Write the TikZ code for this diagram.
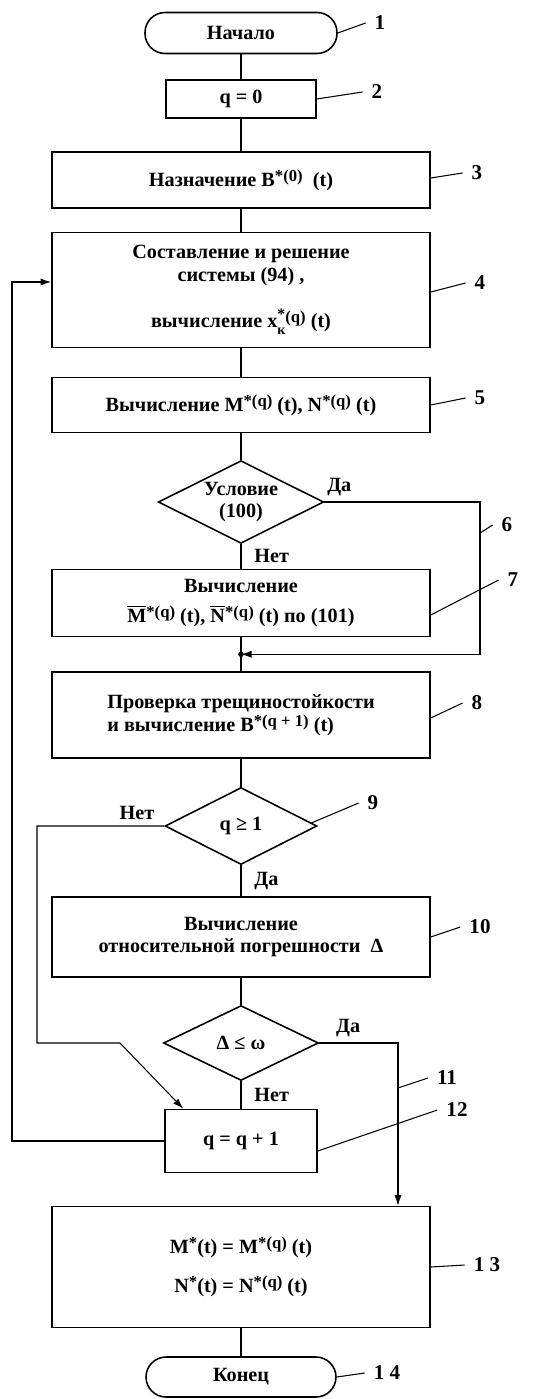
\documentclass[tikz,border=0pt]{standalone}
\usepackage{fontspec}
\setmainfont{Liberation Serif}
\usetikzlibrary{shapes.geometric,calc,arrows.meta}

% indice superior un poco mayor que el estandar
\newcommand{\up}[1]{\raisebox{0.55ex}{\fontsize{9.5}{9.5}\selectfont #1}}
\newcommand{\dn}[1]{\raisebox{-0.75ex}{\fontsize{8}{8}\selectfont #1}}

\begin{document}
\begin{tikzpicture}[x=0.02cm, y=-0.02cm,
    font=\fontsize{11.5}{13}\selectfont\bfseries,
    terminal/.style={draw, line width=0.9pt, rounded corners=0.4cm,
        minimum width=3.84cm, minimum height=0.82cm},
    proc/.style={draw, line width=0.9pt, minimum width=7.56cm,
        align=center, inner sep=2pt},
    cond/.style={draw, diamond, aspect=2, line width=0.9pt, inner sep=1pt,
        align=center, minimum width=3.1cm, minimum height=1.5cm},
    num/.style={font=\fontsize{12}{13}\selectfont\bfseries, inner sep=5pt},
    link/.style={line width=0.6pt},
    flow/.style={line width=0.6pt, -{Latex[length=6pt,width=4pt]}},
    lead/.style={line width=0.6pt}]

\useasboundingbox (0,0) rectangle (546,1399);

% ================================================================
%  Bloques del algoritmo (eje vertical en x = 241 px)
% ================================================================
\node[terminal] (start) at (241,33) {Начало};
\node[proc, minimum width=3cm, minimum height=0.76cm] (b2) at (241,99) {q = 0};
\node[proc, minimum height=1.12cm] (b3) at (241,180)
    {Назначение B\up{*(0)}\ \ (t)};
\node[proc, minimum height=2.3cm] (b4) at (241,290)
    {Составление и решение\\ системы (94) ,\\[12pt]
     вычисление x\rlap{\dn{к}}\raisebox{0.9ex}{\fontsize{9}{9}\selectfont *}\up{(q)} (t)};
\node[proc, minimum height=1.1cm] (b5) at (241,405)
    {Вычисление M\up{*(q)} (t), N\up{*(q)} (t)};
\node[cond] (d6) at (241,502) {Условие\\(100)};
\node[proc, minimum height=1.34cm] (b7) at (241,603)
    {Вычисление\\[4pt]
     $\overline{\mbox{M}}$\up{*(q)} (t), $\overline{\mbox{N}}$\up{*(q)} (t) по (101)};
\node[proc, minimum height=1.72cm, align=left] (b8) at (241,715)
    {Проверка трещиностойкости\\ и вычисление B\up{*(q + 1)} (t)};
\node[cond, minimum width=3.04cm, minimum height=1.54cm] (d9) at (241,826) {q ≥ 1};
\node[proc, minimum height=1.6cm] (b10) at (241,937)
    {Вычисление\\ относительной погрешности\ \ Δ};
\node[cond] (d11) at (241,1043) {Δ ≤ ω};
\node[proc, minimum width=3.04cm, minimum height=1.26cm] (b12) at (241,1141) {q = q + 1};
\node[proc, minimum height=2.42cm] (b13) at (241,1267)
    {M\up{*}(t) = M\up{*(q)} (t)\\[9pt]
     N\up{*}(t) = N\up{*(q)} (t)};
\node[terminal, minimum width=3.8cm, minimum height=0.8cm] (end) at (241,1377) {Конец};

% Puntos auxiliares de las ramas
\coordinate (j)   at ($(b7.south)!0.5!(b8.north)$);
\coordinate (r6)  at (480,533);
\coordinate (lp)  at (12,282);
\coordinate (n9a) at (37,1043);
\coordinate (n9b) at (120,1043);
\coordinate (r11) at (398,1088);

% ================================================================
%  Conexiones
% ================================================================
\draw[link] (start) -- (b2);
\draw[link] (b2) -- (b3);
\draw[link] (b3) -- (b4);
\draw[link] (b4) -- (b5);
\draw[link] (b5) -- (d6);
\draw[link] (d6) -- node[right, xshift=4pt] {Нет} (b7);
\draw[link] (b7) -- (b8);
\draw[flow] (d6.east) node[above right, xshift=-2pt] {Да} -| (r6) -- (r6 |- j) -- (j);
\fill (j) circle (1.6pt);
\draw[link] (b8) -- (d9);
\draw[link] (d9) -- node[right, xshift=4pt] {Да} (b10);
\draw[flow] (d9.west) node[above left, xshift=-2pt] {Нет} -| (n9a) -- (n9b)
    -- ($(b12.north west)+(19,0)$);
\draw[link] (b10) -- (d11);
\draw[link] (d11) -- node[right, xshift=4pt] {Нет} (b12);
\draw[flow] (d11.east) node[above right, xshift=6pt] {Да} -| (r11 |- b13.north);
\draw[flow] (b12.west) -| (lp) -- (lp -| b4.west);
\draw[link] (b13) -- (end);

% ================================================================
%  Numeración de bloques
% ================================================================
\node[num] (n1)  at (380,23)   {1};
\node[num] (n2)  at (377,92)   {2};
\node[num] (n3)  at (477,173)  {3};
\node[num] (n4)  at (480,283)  {4};
\node[num] (n5)  at (480,398)  {5};
\node[num] (n6)  at (507,525)  {6};
\node[num] (n7)  at (513,580)  {7};
\node[num] (n8)  at (477,703)  {8};
\node[num] (n9)  at (373,803)  {9};
\node[num] (n10) at (480,927)  {10};
\node[num] (n11) at (447,1078) {11};
\node[num] (n12) at (457,1110) {12};
\node[num] (n13) at (487,1265) {1 3};
\node[num] (n14) at (387,1373) {1 4};

\draw[lead] (start.east) -- (n1.west);
\draw[lead] (b2.east) -- (n2.west);
\draw[lead] ($(b3.east)+(0,-2)$) -- (n3.west);
\draw[lead] ($(b4.east)+(0,2)$) -- (n4.west);
\draw[lead] (b5.east) -- (n5.west);
\draw[lead] (r6) -- (n6.west);
\draw[lead] ($(b7.east)+(0,12)$) -- (n7.west);
\draw[lead] ($(b8.east)+(0,3)$) -- (n8.west);
\draw[lead] ($(d9.east)!0.08!(d9.north)$) -- (n9.west);
\draw[lead] (b10.east) -- (n10.west);
\draw[lead] (r11) -- (n11.west);
\draw[lead] ($(b12.east)+(0,10)$) -- (n12.west);
\draw[lead] (b13.east) -- (n13.west);
\draw[lead] (end.east) -- (n14.west);

\end{tikzpicture}
\end{document}
